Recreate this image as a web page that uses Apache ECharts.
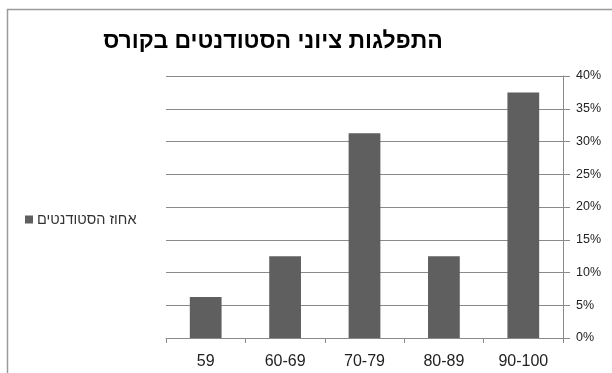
<!DOCTYPE html>
<html><head><meta charset="utf-8">
<script src="https://cdn.jsdelivr.net/npm/echarts@6/dist/echarts.min.js"></script>
<style>html,body{margin:0;padding:0;background:#fff}#c{width:612px;height:373px}</style>
</head><body><div id="c"></div>
<script>
const categories = ['59', '60-69', '70-79', '80-89', '90-100'];
const values = [6.25, 12.5, 31.25, 12.5, 37.5];
const seriesName = 'אחוז הסטודנטים';
const titleText = 'התפלגות ציוני הסטודנטים בקורס';
const yMin = 0, yMax = 40, yStep = 5;

const chart = echarts.init(document.getElementById('c'), null, {renderer: 'canvas'});
chart.setOption({
  animation: false,
  backgroundColor: '#fff',
  graphic: [{
    type: 'rect', shape: {x: 7.5, y: 9.5, width: 700, height: 500},
    style: {fill: 'none', stroke: '#9a9a9a', lineWidth: 1.5}, silent: true
  }],
  title: {
    text: titleText, left: 268, top: 25, textAlign: 'center',
    textStyle: {fontFamily: 'Liberation Sans, Arial, sans-serif', fontWeight: 'bold', fontSize: 23, color: '#000'}
  },
  legend: {
    data: [seriesName], left: 20, top: 207, icon: 'rect', itemWidth: 8, itemHeight: 8, itemGap: 4,
    textStyle: {fontFamily: 'Liberation Sans, Arial, sans-serif', fontSize: 14.5, color: '#333', padding: [0,0,0,-1]}
  },
  grid: {left: 166, right: 49, top: 76, bottom: 35, containLabel: false},
  xAxis: {
    type: 'category', data: categories,
    axisLine: {lineStyle: {color: '#8a8a8a', width: 1}},
    axisTick: {show: true, length: 5, lineStyle: {color: '#8a8a8a'}},
    axisLabel: {fontFamily: 'Liberation Sans, Arial, sans-serif', fontSize: 16, color: '#222', margin: 16}
  },
  yAxis: {
    type: 'value', position: 'right', min: yMin, max: yMax, interval: yStep,
    axisLine: {show: true, lineStyle: {color: '#8a8a8a', width: 1}},
    axisTick: {show: true, length: 7, lineStyle: {color: '#8a8a8a'}},
    splitLine: {show: true, lineStyle: {color: '#8a8a8a', width: 1}},
    axisLabel: {formatter: v => v + '%', fontFamily: 'Liberation Sans, Arial, sans-serif', fontSize: 12.5, color: '#222', margin: 13}
  },
  series: [{
    name: seriesName, type: 'bar', data: values, barWidth: '40%',
    itemStyle: {color: '#5f5f5f'}
  }]
});
</script></body></html>
